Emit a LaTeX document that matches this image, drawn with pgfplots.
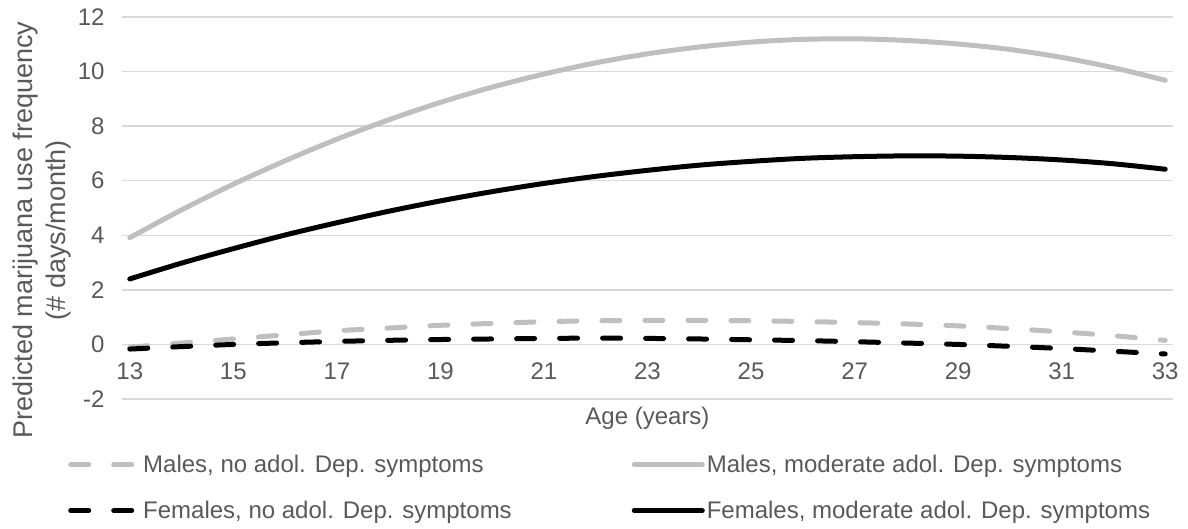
\documentclass[border=0pt]{standalone}
\usepackage{fontspec}
\setmainfont{Liberation Sans}
\usepackage{pgfplots}
\pgfplotsset{compat=1.18}
\definecolor{txt}{HTML}{595959}
\definecolor{gridc}{HTML}{D9D9D9}
\definecolor{lgray}{HTML}{BFBFBF}
\begin{document}
\begin{tikzpicture}
\useasboundingbox (-122pt,-130pt) rectangle (1066pt,399pt);
\begin{axis}[
 at={(0,0)}, anchor=south west,
 scale only axis, width=1051pt, height=382pt,
 xmin=12.85, xmax=33.15, ymin=-2, ymax=12,
 xtick={13,15,...,33}, ytick={-2,0,...,12},
 axis x line=middle, axis y line=left,
 x axis line style={draw=gridc, line width=1.5pt, -},
 y axis line style={draw=none, -},
 ymajorgrids, grid style={draw=gridc, line width=1.5pt},
 major tick length=0pt,
 font=\fontsize{24}{28.8}\selectfont,
 tick label style={text=txt, font=\fontsize{24}{28.8}\selectfont},
 /pgf/number format/assume math mode=true,
 xticklabel style={anchor=north, yshift=-15pt},
 yticklabel style={anchor=east, xshift=-14pt},
 xlabel={Age (years)},
 xlabel style={at={(rel axis cs:0.5,0)}, anchor=north, yshift=-5pt, text=txt},
 ylabel={Predicted marijuana use frequency\\(\# days/month)},
 ylabel style={at={(ticklabel cs:0.442)}, anchor=near ticklabel, align=center, text=txt, font=\fontsize{27}{33}\selectfont},
 legend columns=2,
 legend style={draw=none, fill=none, at={(rel axis cs:0,0)}, anchor=north west, xshift=-57pt, yshift=-52pt,
   font=\fontsize{24}{28.8}\selectfont, text=txt, row sep=23pt,
   /tikz/every even column/.append style={column sep=118pt}},
 legend cell align=left,
 legend image code/.code={\draw[#1] (0pt,0pt) -- (68pt,0pt);},
]
\addplot[lgray, line width=5pt, line cap=round, dash pattern=on 18pt off 25pt, smooth] coordinates {
(13,-0.1)(14,0.05)(15,0.2)(16,0.35)(17,0.5)(18,0.6)(19,0.7)(20,0.77)(21,0.83)(22,0.87)(23,0.88)(24,0.88)(25,0.87)(26,0.84)(27,0.8)(28,0.75)(29,0.68)(30,0.58)(31,0.46)(32,0.32)(33,0.15)};
\addlegendentry{Males, no adol. Dep. symptoms}
\addplot[lgray, line width=5pt, line cap=round, smooth] coordinates {
(13,3.91)(14,4.93)(15,5.87)(16,6.73)(17,7.52)(18,8.23)(19,8.87)(20,9.43)(21,9.91)(22,10.32)(23,10.65)(24,10.90)(25,11.08)(26,11.18)(27,11.20)(28,11.14)(29,11.01)(30,10.81)(31,10.52)(32,10.14)(33,9.68)};
\addlegendentry{Males, moderate adol. Dep. symptoms}
\addplot[black, line width=5pt, line cap=round, dash pattern=on 18pt off 25pt, smooth] coordinates {
(13,-0.17)(14,-0.08)(15,0.0)(16,0.06)(17,0.11)(18,0.15)(19,0.18)(20,0.2)(21,0.22)(22,0.23)(23,0.22)(24,0.2)(25,0.17)(26,0.14)(27,0.1)(28,0.05)(29,0.0)(30,-0.07)(31,-0.15)(32,-0.25)(33,-0.35)};
\addlegendentry{Females, no adol. Dep. symptoms}
\addplot[black, line width=5pt, line cap=round, smooth] coordinates {
(13,2.40)(14,2.98)(15,3.51)(16,4.01)(17,4.46)(18,4.88)(19,5.26)(20,5.60)(21,5.90)(22,6.16)(23,6.38)(24,6.57)(25,6.71)(26,6.82)(27,6.88)(28,6.91)(29,6.90)(30,6.85)(31,6.76)(32,6.62)(33,6.42)};
\addlegendentry{Females, moderate adol. Dep. symptoms}
\end{axis}
\end{tikzpicture}
\end{document}
